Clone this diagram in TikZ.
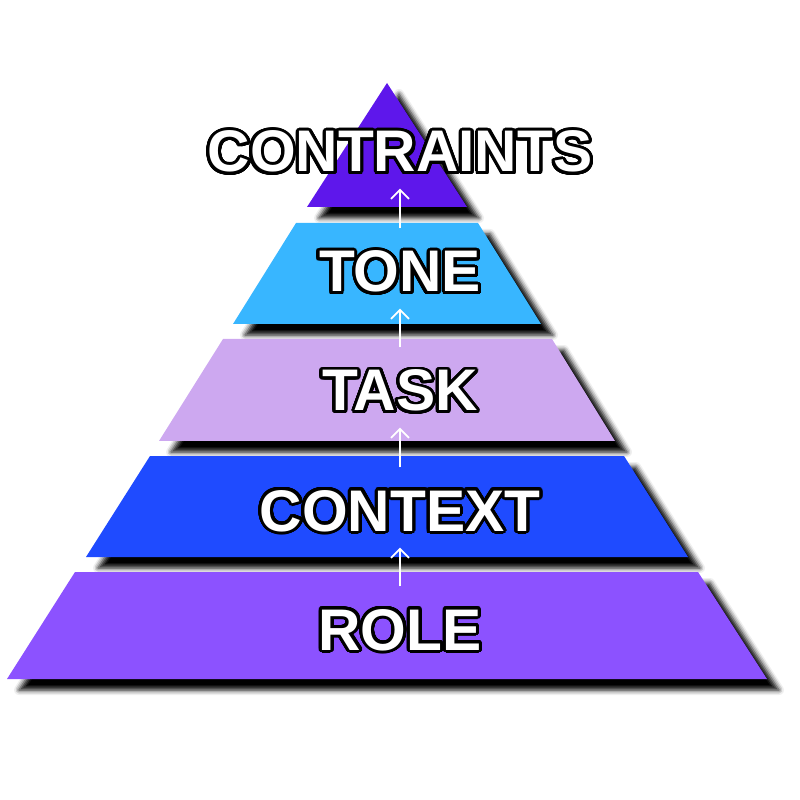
\documentclass[tikz,border=0pt]{standalone}
\usepackage{fontspec}
\setmainfont{Liberation Sans}
\usepackage{contour}
\usetikzlibrary{arrows.meta}
\usetikzlibrary{shadows.blur}

\definecolor{topc}{HTML}{5E17EB}
\definecolor{tonec}{HTML}{38B6FF}
\definecolor{taskc}{HTML}{CDA8F0}
\definecolor{ctxc}{HTML}{1F4BFF}
\definecolor{rolec}{HTML}{8C52FF}
\contourlength{0.3mm}
\contournumber{48}

\begin{document}
\begin{tikzpicture}[
      x=0.1mm, y=-0.1mm,
      layer/.style={blur shadow={shadow xshift=1.2mm, shadow yshift=-1.1mm,
                    shadow blur radius=0.5mm, shadow opacity=100}},
      lbl/.style={text=white, inner sep=0pt, text height=4.2mm, text depth=0pt,
                  font=\fontsize{16.7}{18}\selectfont\bfseries},
      arr/.style={draw=white, line width=0.5pt, -{Straight Barb[length=0.9mm, width=1.8mm]},
                  shorten <=2.1mm, shorten >=1.6mm},
    ]
    \useasboundingbox (0,0) rectangle (800,800);

    % pyramid, top to bottom
    \fill[topc, layer] (387,83) -- (467,207) -- (307,207) -- cycle;
    \fill[tonec, layer] (296,223) -- (478,223) -- (541,324) -- (233,324) -- cycle;
    \fill[taskc, layer] (223,339) -- (552,339) -- (615,441) -- (159,441) -- cycle;
    \fill[ctxc, layer] (150,456) -- (624,456) -- (688,557) -- (86,557) -- cycle;
    \fill[rolec, layer] (75,572) -- (698,572) -- (767,679) -- (7,679) -- cycle;

    \node[lbl] (con) at (400,151) {\contour{black}{CONTRAINTS}};
    \node[lbl] (tone) at (400,271) {\contour{black}{TONE}};
    \node[lbl] (task) at (400,390) {\contour{black}{TASK}};
    \node[lbl] (ctx) at (400,510) {\contour{black}{CONTEXT}};
    \node[lbl] (role) at (400,629) {\contour{black}{ROLE}};

    % bottom-up arrows
    \draw[arr] (role.north) -- (ctx.south);
    \draw[arr] (ctx.north) -- (task.south);
    \draw[arr] (task.north) -- (tone.south);
    \draw[arr] (tone.north) -- (con.south);
\end{tikzpicture}
\end{document}
